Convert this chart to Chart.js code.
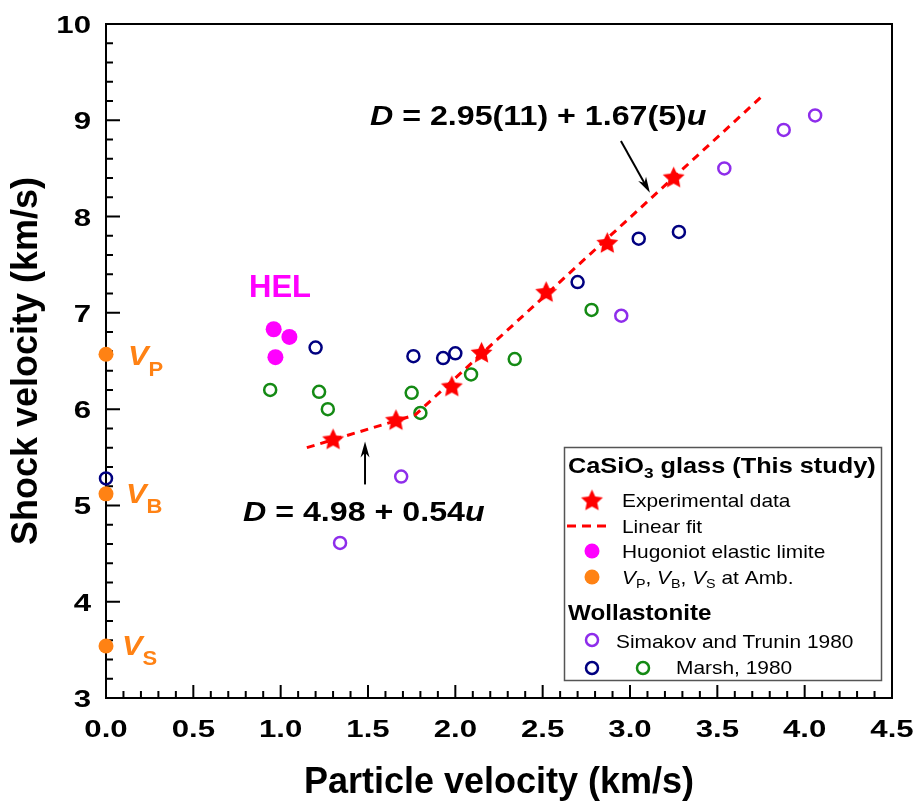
<!DOCTYPE html>
<html><head><meta charset="utf-8">
<script src="https://cdn.jsdelivr.net/npm/chart.js@4.4.1/dist/chart.umd.min.js"></script>
<style>html,body{margin:0;padding:0;background:#fff;} #wrap{width:917px;height:805px;}</style>
</head><body><div id="wrap"><canvas id="c" width="917" height="805"></canvas></div>
<script>
// ---------- DATA ----------
const xTickLabels = ['0.0','0.5','1.0','1.5','2.0','2.5','3.0','3.5','4.0','4.5'];
const yTickLabels = ['3','4','5','6','7','8','9','10'];

// CaSiO3 glass (This study) - experimental data [u, D]
const expData = [[1.30,5.69],[1.66,5.89],[1.98,6.24],[2.15,6.59],[2.52,7.22],[2.87,7.73],[3.25,8.41]];
// Linear fit (two segments)
const fitLine = [[1.15,5.60],[1.77,5.94],[3.75,9.24]];
// Hugoniot elastic limit
const helData = [[0.96,6.83],[1.05,6.75],[0.97,6.54]];
// VP, VB, VS at ambient (u = 0)
const ambData = [[0,6.57],[0,5.12],[0,3.54]];
// Wollastonite: Simakov and Trunin 1980
const simakovData = [[1.34,4.61],[1.69,5.30],[2.95,6.97],[3.54,8.50],[3.88,8.90],[4.06,9.05]];
// Wollastonite: Marsh 1980 (navy)
const marshNavyData = [[0,5.28],[1.20,6.64],[1.76,6.55],[1.93,6.53],[2.00,6.58],[2.70,7.32],[3.05,7.77],[3.28,7.84]];
// Wollastonite: Marsh 1980 (green)
const marshGreenData = [[0.94,6.20],[1.22,6.18],[1.27,6.00],[1.75,6.17],[1.80,5.96],[2.09,6.36],[2.34,6.52],[2.78,7.03]];

const toPts = a => a.map(([x, y]) => ({x, y}));

// ---------- STYLE ----------
const F = "'Liberation Sans', Arial, sans-serif";
const RED = '#FF0000', MAG = '#FF00FF', ORA = '#FF8214', PUR = '#8E2DEB', NAVY = '#000080', GRN = '#148A14';

function makeStar(R, color) {
  const s = Math.ceil(R * 2 + 2);
  const c = document.createElement('canvas'); c.width = s; c.height = s;
  const g = c.getContext('2d'); g.fillStyle = color; g.beginPath();
  for (let i = 0; i < 10; i++) {
    const r = i % 2 ? R * 0.48 : R;
    const a = -Math.PI / 2 + i * Math.PI / 5;
    g.lineTo(s / 2 + r * Math.cos(a), s / 2 + 1 + r * Math.sin(a));
  }
  g.closePath(); g.fill();
  return c;
}
const starImg = makeStar(11.5, RED);

function rich(ctx, x, y, parts, sx) {
  let cx = x;
  for (const p of parts) {
    const [t, f, dy] = p;
    ctx.font = f;
    ctx.save(); ctx.translate(cx, y + (dy || 0)); ctx.scale(sx, 1); ctx.fillText(t, 0, 0); ctx.restore();
    cx += ctx.measureText(t).width * sx;
  }
  return cx;
}
function circle(ctx, x, y, r, fill, stroke, lw) {
  ctx.beginPath(); ctx.arc(x, y, r, 0, Math.PI * 2);
  if (fill) { ctx.fillStyle = fill; ctx.fill(); }
  if (stroke) { ctx.strokeStyle = stroke; ctx.lineWidth = lw; ctx.stroke(); }
}
function arrow(ctx, x1, y1, x2, y2) {
  const ang = Math.atan2(y2 - y1, x2 - x1), L = 16, W = 4.5;
  ctx.strokeStyle = '#000'; ctx.fillStyle = '#000'; ctx.lineWidth = 2;
  ctx.beginPath(); ctx.moveTo(x1, y1);
  ctx.lineTo(x2 - Math.cos(ang) * L * 0.6, y2 - Math.sin(ang) * L * 0.6); ctx.stroke();
  ctx.beginPath(); ctx.moveTo(x2, y2);
  ctx.lineTo(x2 - Math.cos(ang) * L - Math.sin(ang) * W, y2 - Math.sin(ang) * L + Math.cos(ang) * W);
  ctx.lineTo(x2 - Math.cos(ang) * L * 0.7, y2 - Math.sin(ang) * L * 0.7);
  ctx.lineTo(x2 - Math.cos(ang) * L + Math.sin(ang) * W, y2 - Math.sin(ang) * L - Math.cos(ang) * W);
  ctx.closePath(); ctx.fill();
}

const TICKFONT = `bold 24px ${F}`, TSX = 1.3;

const decor = {
  id: 'decor',
  beforeDatasetsDraw(chart) {
    const {ctx, chartArea: a, scales: {x, y}} = chart;
    ctx.save();
    ctx.strokeStyle = '#000'; ctx.lineWidth = 2;
    ctx.beginPath();
    for (let i = 0; i <= 45; i++) {
      const v = i / 10, px = x.getPixelForValue(v), major = i % 5 === 0;
      ctx.moveTo(px, a.bottom); ctx.lineTo(px, a.bottom - (major ? 13 : 7));
    }
    for (let i = 0; i <= 35; i++) {
      const v = 3 + i / 5, py = y.getPixelForValue(v), major = i % 5 === 0;
      ctx.moveTo(a.left, py); ctx.lineTo(a.left + (major ? 14 : 7), py);
    }
    ctx.stroke();
    ctx.strokeRect(a.left, a.top, a.right - a.left, a.bottom - a.top);
    // tick labels (from the scales' own ticks)
    ctx.fillStyle = '#000'; ctx.textBaseline = 'alphabetic'; ctx.font = TICKFONT;
    x.ticks.forEach((t, i) => {
      const s = xTickLabels[i]; if (s === undefined) return;
      const w = ctx.measureText(s).width * TSX;
      ctx.save(); ctx.translate(x.getPixelForValue(t.value) - w / 2, a.bottom + 39); ctx.scale(TSX, 1); ctx.fillText(s, 0, 0); ctx.restore();
    });
    y.ticks.forEach((t, i) => {
      const s = yTickLabels[i]; if (s === undefined) return;
      const w = ctx.measureText(s).width * TSX;
      ctx.save(); ctx.translate(a.left - 15 - w, y.getPixelForValue(t.value) + 9); ctx.scale(TSX, 1); ctx.fillText(s, 0, 0); ctx.restore();
    });
    ctx.restore();
  },
  afterDraw(chart) {
    const {ctx, scales: {x, y}} = chart;
    ctx.save();
    ctx.textBaseline = 'alphabetic'; ctx.textAlign = 'left';
    // HEL
    ctx.fillStyle = MAG;
    rich(ctx, 249, 297, [['HEL', `bold 32px ${F}`]], 0.97);
    // V labels
    ctx.fillStyle = ORA;
    rich(ctx, 128, 365, [['V', `italic bold 28px ${F}`], ['P', `bold 20px ${F}`, 11]], 1.1);
    rich(ctx, 126, 503, [['V', `italic bold 28px ${F}`], ['B', `bold 20px ${F}`, 10]], 1.1);
    rich(ctx, 122, 655, [['V', `italic bold 28px ${F}`], ['S', `bold 20px ${F}`, 10]], 1.1);
    // equations
    ctx.fillStyle = '#000';
    rich(ctx, 370, 125, [['D', `italic bold 28px ${F}`], [' = 2.95(11) + 1.67(5)', `bold 28px ${F}`], ['u', `italic bold 28px ${F}`]], 1.15);
    rich(ctx, 243, 521, [['D', `italic bold 28px ${F}`], [' = 4.98 + 0.54', `bold 28px ${F}`], ['u', `italic bold 28px ${F}`]], 1.15);
    arrow(ctx, x.getPixelForValue(2.948), y.getPixelForValue(8.786), x.getPixelForValue(3.114), y.getPixelForValue(8.247));
    arrow(ctx, x.getPixelForValue(1.483), y.getPixelForValue(5.218), x.getPixelForValue(1.483), y.getPixelForValue(5.664));

    // legend box
    ctx.fillStyle = '#fff'; ctx.fillRect(564, 447, 318, 234);
    ctx.strokeStyle = '#555'; ctx.lineWidth = 1.5; ctx.strokeRect(564.5, 447.5, 317, 233);
    ctx.fillStyle = '#000';
    rich(ctx, 568, 473, [['CaSiO', `bold 22px ${F}`], ['3', `bold 15px ${F}`, 5], [' glass (This study)', `bold 22px ${F}`]], 1.15);
    ctx.drawImage(starImg, 592 - starImg.width / 2, 500 - starImg.height / 2);
    ctx.fillStyle = '#000';
    rich(ctx, 622, 507, [['Experimental data', `19px ${F}`]], 1.1);
    ctx.strokeStyle = RED; ctx.lineWidth = 3; ctx.setLineDash([9, 6]);
    ctx.beginPath(); ctx.moveTo(567, 526); ctx.lineTo(608, 526); ctx.stroke(); ctx.setLineDash([]);
    ctx.fillStyle = '#000';
    rich(ctx, 622, 533, [['Linear fit', `19px ${F}`]], 1.1);
    circle(ctx, 592, 551, 7.5, MAG);
    ctx.fillStyle = '#000';
    rich(ctx, 622, 558, [['Hugoniot elastic limite', `19px ${F}`]], 1.1);
    circle(ctx, 592, 577, 7.5, ORA);
    ctx.fillStyle = '#000';
    rich(ctx, 622, 584, [['V', `italic 19px ${F}`], ['P', `13px ${F}`, 4], [', ', `19px ${F}`], ['V', `italic 19px ${F}`], ['B', `13px ${F}`, 4], [', ', `19px ${F}`], ['V', `italic 19px ${F}`], ['S', `13px ${F}`, 4], [' at Amb.', `19px ${F}`]], 1.1);
    rich(ctx, 568, 620, [['Wollastonite', `bold 22px ${F}`]], 1.1);
    circle(ctx, 592, 640, 6, null, PUR, 2.5);
    ctx.fillStyle = '#000';
    rich(ctx, 616, 648, [['Simakov and Trunin 1980', `19px ${F}`]], 1.1);
    circle(ctx, 592, 668, 6, null, NAVY, 2.5);
    circle(ctx, 643, 668, 6, null, GRN, 2.5);
    ctx.fillStyle = '#000';
    rich(ctx, 676, 674, [['Marsh, 1980', `19px ${F}`]], 1.1);
    ctx.restore();
  }
};

const openCircle = (label, data, color) => ({
  label, data: toPts(data), pointRadius: 6, pointBorderWidth: 2.5,
  pointBackgroundColor: 'rgba(0,0,0,0)', pointBorderColor: color, showLine: false, clip: false, order: 5
});

new Chart(document.getElementById('c'), {
  type: 'scatter',
  data: {
    datasets: [
      {label: 'Experimental data', data: toPts(expData), pointStyle: starImg, pointRadius: 11, showLine: false, clip: false, order: 0},
      {label: 'Linear fit', data: toPts(fitLine), showLine: true, borderColor: RED, borderWidth: 3, borderDash: [8, 6], pointRadius: 0, fill: false, order: 1},
      {label: 'Hugoniot elastic limite', data: toPts(helData), pointRadius: 8, pointBackgroundColor: MAG, pointBorderColor: MAG, pointBorderWidth: 0, showLine: false, clip: false, order: 2},
      {label: 'VP, VB, VS at Amb.', data: toPts(ambData), pointRadius: 7.5, pointBackgroundColor: ORA, pointBorderColor: ORA, pointBorderWidth: 0, showLine: false, clip: false, order: 2},
      openCircle('Simakov and Trunin 1980', simakovData, PUR),
      openCircle('Marsh, 1980', marshNavyData, NAVY),
      openCircle('Marsh, 1980 ', marshGreenData, GRN)
    ]
  },
  options: {
    responsive: false, animation: false, devicePixelRatio: 1,
    layout: {padding: {top: 24, right: 25, left: 0, bottom: 0}},
    plugins: {legend: {display: false}, tooltip: {enabled: false}},
    scales: {
      x: {
        type: 'linear', min: 0, max: 4.5,
        afterFit: s => { s.height = 107; s.paddingLeft = 0; s.paddingRight = 0; s.paddingTop = 0; s.paddingBottom = 0; },
        grid: {display: false, drawTicks: false}, border: {display: false},
        ticks: {stepSize: 0.5, display: false},
        title: {display: true, text: 'Particle velocity (km/s)', color: '#000', padding: 0,
          font: {family: F, size: 36, weight: 'bold'}}
      },
      y: {
        type: 'linear', min: 3, max: 10,
        afterFit: s => { s.width = 106; s.paddingLeft = 0; s.paddingRight = 0; s.paddingTop = 0; s.paddingBottom = 0; },
        grid: {display: false, drawTicks: false}, border: {display: false},
        ticks: {stepSize: 1, display: false},
        title: {display: true, text: 'Shock velocity (km/s)', color: '#000', padding: 5,
          font: {family: F, size: 36, weight: 'bold'}}
      }
    }
  },
  plugins: [decor]
});
</script>
</body></html>
